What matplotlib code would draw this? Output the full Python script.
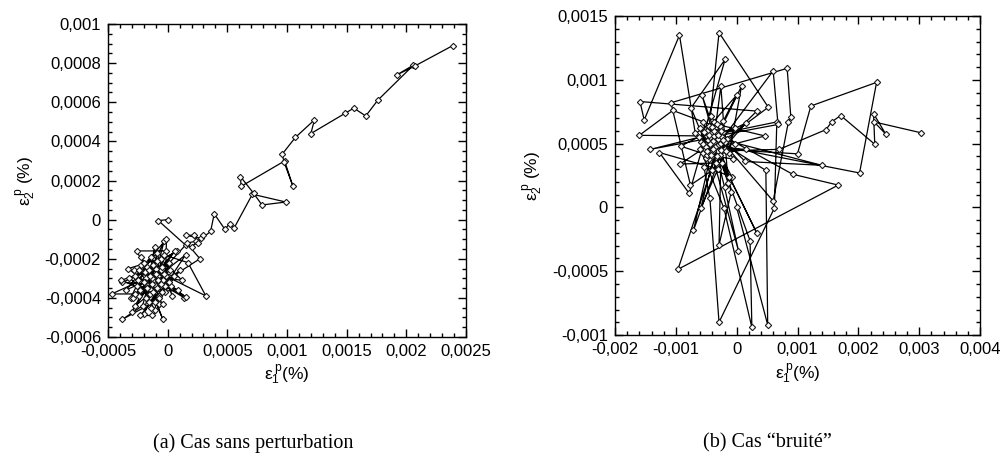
import numpy as np
import matplotlib
matplotlib.use('Agg')
import matplotlib.pyplot as plt
from matplotlib.ticker import MultipleLocator, FuncFormatter

# Plastic strain paths, (eps1, eps2) in units of 1e-4 %
UNIT = 1e-4

strain_a = [
    (0.0, 0.0), (-0.78, -0.05), (1.5, -1.3), (-1.2, -3.1), (-2.3, -3.6),
    (-0.6, -2.6), (-3.1, -4.0), (-1.4, -1.9), (-0.2, -3.7), (-2.7, -2.9),
    (-1.1, -4.6), (0.1, -2.2), (-3.8, -3.2), (-1.8, -3.3), (-0.7, -4.3),
    (-2.2, -2.3), (1.4, -4.0), (-1.3, -3.0), (-3.5, -3.6), (-0.9, -1.7),
    (-2.0, -4.8), (-0.4, -3.1), (-2.8, -2.6), (0.3, -3.4), (-1.6, -4.2),
    (-0.3, -1.1), (-2.4, -3.9), (-1.0, -2.5), (-3.9, -3.1), (-0.7, -3.9),
    (-1.9, -2.7), (0.2, -2.6), (-2.9, -4.0), (-1.4, -3.6), (-0.4, -5.1),
    (-1.8, -3.0), (-4.7, -3.8), (-2.7, -3.8), (-1.0, -3.4), (-2.6, -1.6),
    (-0.1, -1.6), (-1.5, -3.8), (-3.2, -3.0), (0.8, -1.6), (-1.2, -2.3),
    (-2.1, -4.4), (-3.8, -5.1), (-1.1, -4.2), (1.5, -1.8), (-0.8, -2.9),
    (-2.6, -3.4), (-0.5, -3.7), (-1.7, -2.4), (0.5, -2.9), (-2.3, -4.9),
    (-1.3, -4.9), (-0.4, -4.3), (-1.9, -3.2), (-3.3, -2.5), (-0.6, -2.0),
    (1.2, -3.1), (-1.5, -2.9), (-2.7, -4.4), (-0.9, -3.5), (-0.1, -2.9),
    (3.2, -3.9), (1.7, -2.2), (-0.3, -1.8), (-1.4, -4.5), (-2.0, -3.2),
    (-0.8, -3.1), (0.9, -3.6), (-1.2, -3.7), (-2.4, -2.6), (-0.1, -1.0),
    (-0.2, -3.4), (-1.6, -2.6), (1.5, -3.95), (-1.0, -2.8), (-3.0, -4.7),
    (-0.5, -2.4), (0.6, -1.6), (-1.3, -3.3), (-2.2, -1.9), (-0.7, -4.0),
    (1.0, -2.6), (-1.8, -4.0), (-0.3, -2.8), (-2.5, -3.1), (-0.9, -2.1),
    (0.4, -3.9), (-1.1, -1.4), (-1.7, -3.5), (0.1, -3.2), (-2.0, -2.2),
    (-0.6, -3.3), (2.7, -2.0), (1.6, -1.2), (2.4, -1.1), (2.2, -0.8),
    (1.5, -0.8), (2.8, -0.95), (2.5, -1.2), (3.0, -0.8), (2.0, -1.4),
    (3.6, -0.6), (3.9, 0.3), (4.8, -0.5), (5.2, -0.2), (5.55, -0.45),
    (7.1, 1.3), (9.9, 0.9), (7.9, 0.75), (7.2, 1.35), (6.1, 2.2),
    (6.15, 1.7), (9.8, 3.0), (10.5, 1.7), (9.75, 2.95), (9.6, 3.35),
    (10.7, 4.2), (12.3, 5.1), (12.0, 4.4), (14.9, 5.45), (15.6, 5.7),
    (16.6, 5.3), (17.6, 6.1), (20.6, 7.9), (19.2, 7.4), (20.7, 7.85),
    (23.9, 8.9),
]

strain_b = [
    (0.0, 0.0), (5.1, -9.2), (4.8, 2.9), (-3.6, 5.4), (-5.2, 6.1),
    (-3.0, 4.4), (-6.2, 5.5), (-2.3, 5.9), (-4.5, 3.8), (3.3, 7.55),
    (-15.9, 8.3), (-15.2, 6.85), (-9.4, 13.5), (-6.8, 5.8), (-3.8, 6.7),
    (-5.6, 4.3), (-1.6, 5.4), (-4.3, 7.2), (-2.9, 13.7), (5.2, 7.85),
    (-2.8, 5.0), (-6.0, 6.2), (-3.4, 3.5), (-4.9, 5.6), (-16.0, 5.65),
    (-10.5, 7.6), (-3.2, 6.3), (-5.1, 4.9), (-2.0, 4.6), (-4.0, 2.9),
    (-7.6, 1.75), (-10.8, 8.2), (8.3, 10.9), (8.9, 7.1), (8.5, 6.7),
    (6.0, 0.5), (-3.9, 6.0), (-5.8, 5.1), (-1.9, 11.6), (-7.5, 7.8),
    (-4.4, 4.2), (-2.5, 5.6), (-14.2, 4.55), (-0.2, 6.2), (-4.7, 5.3),
    (-3.3, 4.8), (-5.9, -0.05), (-3.1, 3.0), (-12.7, 4.3), (-7.8, 1.1),
    (-4.6, 6.4), (-2.7, 4.1), (-0.8, 2.4), (-5.4, 3.2), (-4.4, 0.7),
    (-2.9, -9.0), (6.2, -0.05), (6.6, 6.7), (-3.6, 5.7), (-5.2, 4.6),
    (-2.2, 6.8), (-4.1, 4.0), (-9.2, 4.8), (-3.5, 6.2), (-2.6, 9.5),
    (-1.4, 1.9), (-4.2, 5.8), (-6.0, 4.6), (-2.1, -0.05), (2.5, -9.4),
    (2.2, -2.6), (-3.7, 5.1), (0.8, 9.5), (-1.2, 4.3), (-4.8, 6.0),
    (-3.0, 5.4), (-9.3, 3.4), (-2.4, 3.5), (-5.6, 6.7), (-3.9, 4.4),
    (6.0, 10.7), (6.8, 6.5), (-4.4, 5.5), (-2.8, 6.4), (-5.0, 3.9),
    (-1.9, 5.1), (-7.1, -1.8), (-3.4, 5.9), (-5.5, 5.0), (1.5, 6.6),
    (-3.3, 4.0), (-4.6, 5.7), (3.3, -2.0), (-1.2, 2.4), (-4.0, 6.3),
    (-2.6, 4.5), (-5.7, 8.8), (-3.8, 5.6), (-4.9, 4.1), (-0.6, 3.8),
    (-3.2, 6.5), (4.65, 5.6), (-0.2, 5.0), (-4.5, 4.9), (0.3, -3.4),
    (-2.0, 1.6), (-3.6, 4.7), (-5.3, 5.9), (0.0, 8.8), (-3.9, 5.2),
    (-2.5, 6.0), (-2.9, -2.95), (-0.9, 1.2), (-3.3, 5.8), (-5.0, 4.7),
    (1.6, 4.55), (-4.2, 4.1), (-2.4, 5.5), (-9.65, -4.85), (16.7, 1.75),
    (9.2, 2.6), (-3.7, 6.0), (-1.8, 4.4), (-4.4, 5.0), (20.2, 2.7),
    (23.0, 9.8), (12.2, 7.95), (10.0, 4.2), (-3.9, 4.6), (-2.2, 5.3),
    (14.0, 3.3), (1.4, 3.6), (-3.0, 5.7), (-4.8, 4.4), (7.0, 4.55),
    (14.7, 6.1), (15.6, 6.7), (17.1, 7.2), (22.7, 4.95), (22.5, 7.35),
    (24.5, 5.75), (22.6, 6.7), (30.3, 5.85),
]

captions = ['(a) Cas sans perturbation', '(b) Cas \u201cbruit\u00e9\u201d']

plt.rcParams.update({
    'font.family': 'Liberation Sans',
    'mathtext.fontset': 'custom',
    'mathtext.rm': 'Liberation Sans',
    'mathtext.it': 'Liberation Sans',
    'mathtext.sf': 'Liberation Sans',
    'font.size': 12.5,
    'axes.linewidth': 1.0,
})


def comma_fmt(v, pos):
    if abs(v) < 1e-12:
        return '0'
    return f'{v:g}'.replace('.', ',')


def draw(ax, pts, xlim, ylim, xstep, xminor, ystep, yminor):
    x = np.array([p[0] for p in pts]) * UNIT
    y = np.array([p[1] for p in pts]) * UNIT
    ax.plot(x, y, '-', color='black', lw=0.9, marker='D', ms=3.2,
            mfc='white', mec='#1a1a1a', mew=0.8)
    ax.set_xlim(*xlim)
    ax.set_ylim(*ylim)
    ax.xaxis.set_major_locator(MultipleLocator(xstep))
    ax.xaxis.set_minor_locator(MultipleLocator(xminor))
    ax.yaxis.set_major_locator(MultipleLocator(ystep))
    ax.yaxis.set_minor_locator(MultipleLocator(yminor))
    ax.xaxis.set_major_formatter(FuncFormatter(comma_fmt))
    ax.yaxis.set_major_formatter(FuncFormatter(comma_fmt))
    ax.tick_params(which='both', direction='in', top=True, right=True,
                   width=1.0, labelsize=12)
    ax.tick_params(which='major', length=6, pad=5)
    ax.tick_params(which='minor', length=3)


fig = plt.figure(figsize=(10, 4.71), dpi=100)
ax_a = fig.add_axes([0.108, 0.2845, 0.358, 0.6645])
ax_b = fig.add_axes([0.615, 0.2887, 0.365, 0.6773])

draw(ax_a, strain_a, (-0.0005, 0.0025), (-0.0006, 0.001),
     0.0005, 0.0001, 0.0002, 0.00005)
draw(ax_b, strain_b, (-0.002, 0.004), (-0.001, 0.0015),
     0.001, 0.0002, 0.0005, 0.0001)

ax_a.set_xlabel(r'$\varepsilon_1^{\,p}$(%)', labelpad=3)
ax_a.set_ylabel(r'$\varepsilon_2^{\,p}$ (%)', labelpad=5)
ax_b.set_xlabel(r'$\varepsilon_1^{\,p}$(%)', labelpad=3)
ax_b.set_ylabel(r'$\varepsilon_2^{\,p}$ (%)', labelpad=5)

fig.text(0.253, 1 - 443 / 471, captions[0], ha='center', va='center',
         family='Liberation Serif', size=14.5)
fig.text(0.767, 1 - 443 / 471, captions[1], ha='center', va='center',
         family='Liberation Serif', size=14.5)

fig.savefig('out.png', dpi=100)
